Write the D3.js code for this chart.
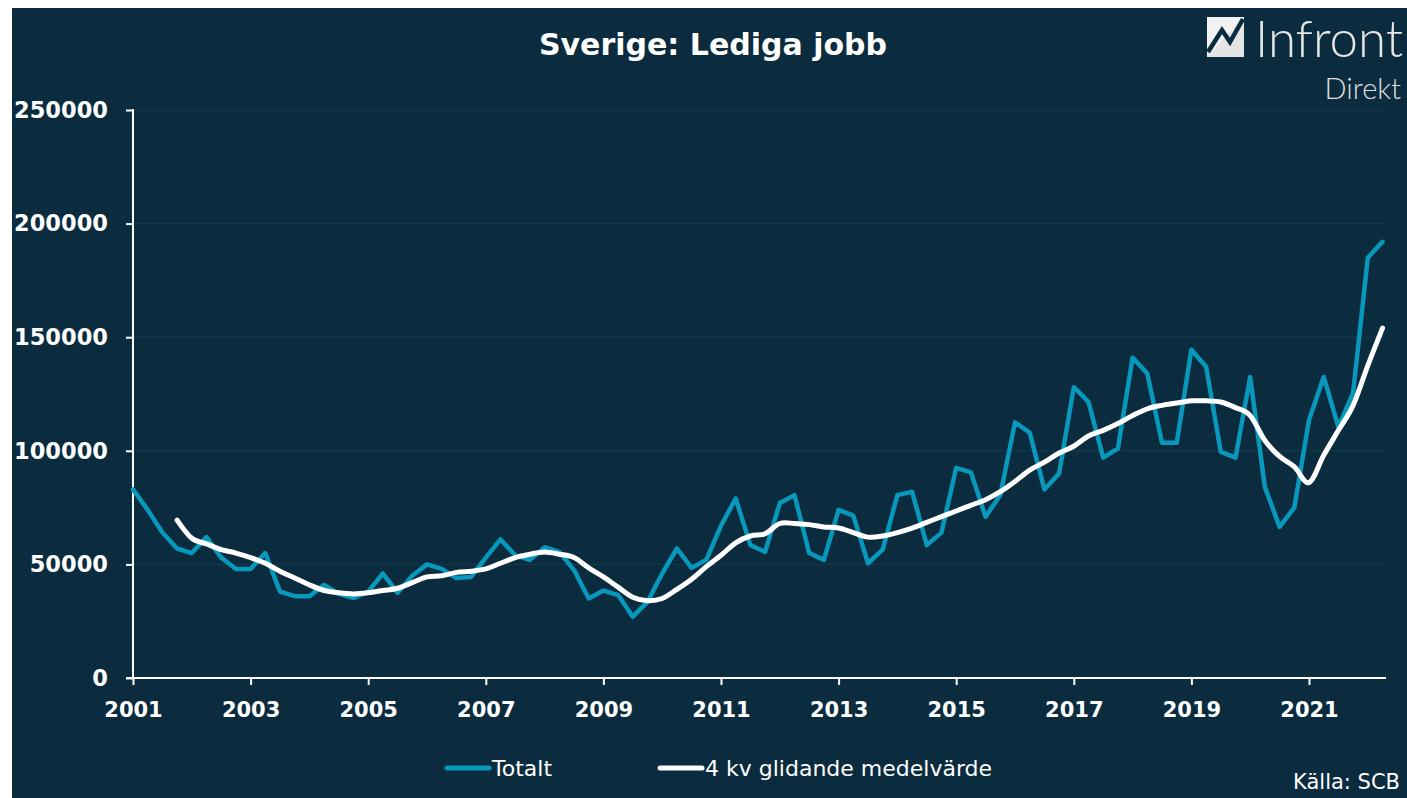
<!DOCTYPE html>
<html><head><meta charset="utf-8">
<script src="https://cdn.jsdelivr.net/npm/d3@7"></script>
<style>html,body{margin:0;padding:0;background:#fff;} svg{display:block}</style>
</head><body>
<script>
// ---- data ----
const startYear = 2001;
const quarters = d3.range(86).map(i => `${startYear + Math.floor(i / 4)}Q${i % 4 + 1}`);
const totalt = [83000, 74000, 64000, 57000, 55000, 62000, 53000, 48000, 48000, 55000,
  38000, 36000, 36000, 41000, 37000, 35200, 38000, 46000, 37500, 45000,
  50000, 48000, 44000, 44500, 53000, 61000, 54000, 52000, 57500, 55500,
  47500, 35000, 38500, 36500, 27000, 33500, 46000, 57000, 48500, 52000,
  67000, 79000, 58500, 55500, 77000, 80500, 55000, 52000, 74000, 71500,
  50500, 56500, 80500, 82000, 58500, 64000, 92500, 90500, 71000, 80500,
  112500, 108000, 83000, 90000, 128000, 121500, 97000, 101000, 141000, 134000,
  103500, 103500, 144500, 137000, 99500, 97000, 132500, 84000, 66500, 75000,
  113500, 132500, 110500, 125500, 185000, 192000];
const maStartIndex = 3; // first moving-average value is 2001Q4
const glidande = [69500, 61500, 59000, 56500, 55000, 53000, 50500, 47000, 44000, 41000,
  38500, 37500, 37000, 37500, 38500, 39500, 42000, 44500, 45000, 46500,
  47000, 48000, 50500, 53000, 54500, 55500, 54500, 53000, 48500, 44500,
  40000, 35500, 34000, 35000, 39000, 43500, 49000, 54000, 59500, 62500,
  63500, 68000, 68000, 67500, 66500, 66000, 64000, 62000, 62500, 64000,
  66000, 68500, 71000, 73500, 76000, 78500, 82000, 86500, 91500, 95000,
  99000, 102000, 106500, 109000, 112000, 115500, 118500, 120000, 121000, 122000,
  122000, 121500, 119000, 115500, 104500, 97500, 93000, 86000, 98000, 109000,
  120000, 137500, 154000];
const yTicks = [0, 50000, 100000, 150000, 200000, 250000];
const xTickYears = [2001, 2003, 2005, 2007, 2009, 2011, 2013, 2015, 2017, 2019, 2021];
const seriesNames = ["Totalt", "4 kv glidande medelvärde"];
const titleText = "Sverige: Lediga jobb";
const sourceText = "Källa:  SCB";

// ---- layout ----
const W = 1407, H = 798;
const BG = "#0b2b3e", TEAL = "#0898bb";
const svg = d3.select("body").append("svg").attr("width", W).attr("height", H);
svg.append("rect").attr("x", 12).attr("y", 8).attr("width", W - 12).attr("height", H - 8).attr("fill", BG);

const x = d3.scalePoint().domain(quarters).range([133, 1382.5]);
const y = d3.scaleLinear().domain([0, 250000]).range([678, 110]);

// gridlines
svg.append("g").selectAll("line").data(yTicks.filter(d => d > 0)).join("line")
  .attr("x1", 133).attr("x2", 1386)
  .attr("y1", d => y(d)).attr("y2", d => y(d))
  .attr("stroke", "#13364a").attr("stroke-width", 1.5);

// y axis
const yAxis = svg.append("g").attr("transform", "translate(133,0)")
  .call(d3.axisLeft(y).tickValues(yTicks).tickFormat(d3.format("d")).tickSize(7).tickPadding(18));
yAxis.select(".domain").remove();
yAxis.selectAll(".tick line").attr("stroke", "#fff").attr("stroke-width", 2);
yAxis.selectAll(".tick text").attr("fill", "#fff")
  .style("font-family", "'DejaVu Sans', Verdana, sans-serif").style("font-weight", "bold").style("font-size", "22.5px");
svg.append("line").attr("x1", 133).attr("x2", 133).attr("y1", 109).attr("y2", 679)
  .attr("stroke", "#fff").attr("stroke-width", 2);

// x axis
const xAxis = svg.append("g").attr("transform", "translate(0,678)")
  .call(d3.axisBottom(x).tickValues(xTickYears.map(yr => `${yr}Q1`)).tickFormat(d => d.slice(0, 4)).tickSize(7).tickPadding(17));
xAxis.select(".domain").remove();
xAxis.selectAll(".tick line").attr("stroke", "#fff").attr("stroke-width", 2);
xAxis.selectAll(".tick text").attr("fill", "#fff")
  .style("font-family", "'DejaVu Sans', Verdana, sans-serif").style("font-weight", "bold").style("font-size", "21px");
svg.append("line").attr("x1", 126).attr("x2", 1386).attr("y1", 678).attr("y2", 678)
  .attr("stroke", "#fff").attr("stroke-width", 2);

// lines
const lineT = d3.line().x((d, i) => x(quarters[i])).y(d => y(d));
svg.append("path").datum(totalt).attr("d", lineT)
  .attr("fill", "none").attr("stroke", TEAL).attr("stroke-width", 4.5)
  .attr("stroke-linejoin", "round").attr("stroke-linecap", "round");
const lineM = d3.line().x((d, i) => x(quarters[i + maStartIndex])).y(d => y(d)).curve(d3.curveCatmullRom.alpha(0));
svg.append("path").datum(glidande).attr("d", lineM)
  .attr("fill", "none").attr("stroke", "#fff").attr("stroke-width", 5)
  .attr("stroke-linejoin", "round").attr("stroke-linecap", "round");

// title
svg.append("text").attr("x", 713).attr("y", 55).attr("text-anchor", "middle")
  .attr("fill", "#fff").style("font-family", "'DejaVu Sans', Verdana, sans-serif")
  .style("font-weight", "bold").style("font-size", "30px").text(titleText);

// legend
const legend = [
  { name: seriesNames[0], color: TEAL, x0: 447 },
  { name: seriesNames[1], color: "#fff", x0: 660 }
];
const lg = svg.append("g").selectAll("g").data(legend).join("g");
lg.append("line").attr("x1", d => d.x0).attr("x2", d => d.x0 + 42).attr("y1", 768).attr("y2", 768)
  .attr("stroke", d => d.color).attr("stroke-width", 5).attr("stroke-linecap", "round");
lg.append("text").attr("x", d => d.x0 + 45).attr("y", 776).attr("fill", "#fff")
  .style("font-family", "'DejaVu Sans', Verdana, sans-serif").style("font-size", "22px").text(d => d.name);

// source
svg.append("text").attr("x", 1400).attr("y", 789).attr("text-anchor", "end").attr("fill", "#fff")
  .style("font-family", "'DejaVu Sans', Verdana, sans-serif").style("font-size", "21px").text(sourceText);

// logo
const logo = svg.append("g");
logo.append("rect").attr("x", 1207).attr("y", 17).attr("width", 37).attr("height", 40).attr("fill", "#e4e4e4");
logo.append("path").attr("d", "M1207,17 L1244,17 L1207,57 Z").attr("fill", "#f2f2f2");
logo.append("path").attr("d", "M1208,52 L1222,30 L1230,42 L1243,19")
  .attr("fill", "none").attr("stroke", BG).attr("stroke-width", 4.5);
logo.append("text").attr("x", 1255).attr("y", 57).attr("fill", "#e6e6e6")
  .style("font-family", "Lato, 'Open Sans', sans-serif").style("font-weight", "300").style("font-size", "51px").text("Infront");
logo.append("text").attr("x", 1401).attr("y", 99).attr("text-anchor", "end").attr("fill", "#e0e0e0")
  .style("font-family", "Lato, 'Open Sans', sans-serif").style("font-weight", "300").style("font-size", "29px").text("Direkt");
</script>
</body></html>
